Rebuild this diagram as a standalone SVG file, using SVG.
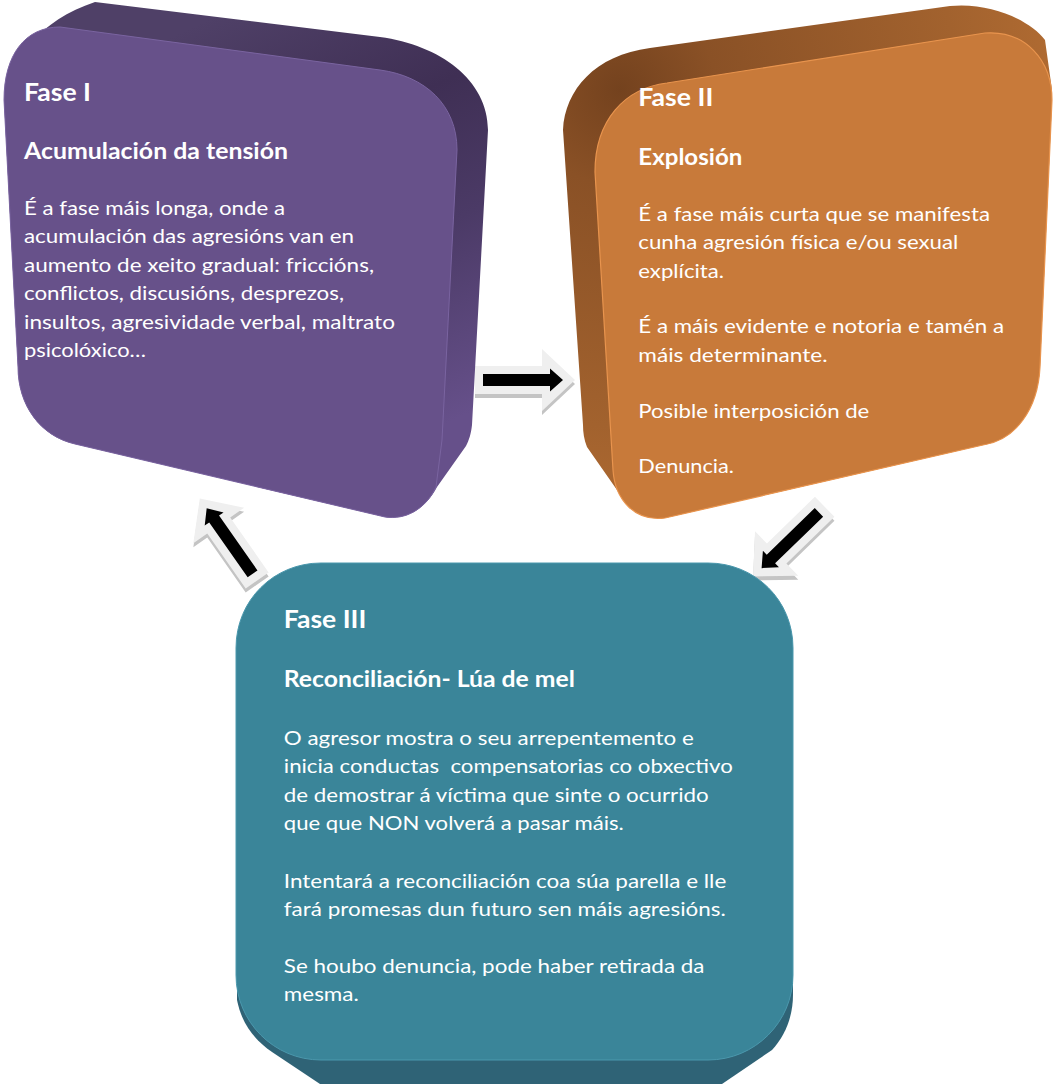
<svg xmlns="http://www.w3.org/2000/svg" width="1054" height="1084" viewBox="0 0 1054 1084">
  <style>
    .t { font-family: Lato, "Open Sans", "DejaVu Sans", sans-serif; fill: #ffffff; font-size: 19px; white-space: pre; }
    .h1 { font-weight: bold; font-size: 25px; }
    .h2 { font-weight: bold; font-size: 22px; }
    .arrG { fill: #efefef; }
    .arrS { fill: #c4c4c4; }
    .arrB { fill: #000000; }
  </style>
  <defs>
    <polygon id="arrowGray" points="-100,-14 -33,-14 -33,-31 0,0 -33,31 -33,14 -100,14"/>
    <polygon id="arrowBlack" points="-92,-6 -25,-6 -25,-11.5 -12,0 -25,11.5 -25,6 -92,6"/>
    <linearGradient id="purpleSide" gradientUnits="userSpaceOnUse" x1="250" y1="0" x2="470" y2="470">
      <stop offset="0" stop-color="#4F4067"/>
      <stop offset="0.3" stop-color="#3F2F54"/>
      <stop offset="0.55" stop-color="#4B3A66"/>
      <stop offset="0.9" stop-color="#66508A"/>
    </linearGradient>
    <radialGradient id="orangeSide" gradientUnits="userSpaceOnUse" cx="620" cy="90" r="480">
      <stop offset="0" stop-color="#74421E"/>
      <stop offset="0.2" stop-color="#8A5126"/>
      <stop offset="0.7" stop-color="#A2622E"/>
      <stop offset="1" stop-color="#B56E33"/>
    </radialGradient>
  </defs>

  <g id="connectors">
    <g id="arrow-1-2">
      <use href="#arrowGray" class="arrS" transform="translate(575,384)"/>
      <use href="#arrowGray" class="arrG" transform="translate(575,380)"/>
      <use href="#arrowBlack" class="arrB" transform="translate(575,380)"/>
    </g>
    <g id="arrow-2-3">
      <use href="#arrowGray" class="arrS" transform="translate(753,580.5) rotate(135.8)"/>
      <use href="#arrowGray" class="arrG" transform="translate(753,576.5) rotate(135.8)"/>
      <use href="#arrowBlack" class="arrB" transform="translate(753,576.5) rotate(135.8)"/>
    </g>
    <g id="arrow-3-1">
      <use href="#arrowGray" class="arrS" transform="translate(199.8,502.5) rotate(235)"/>
      <use href="#arrowGray" class="arrG" transform="translate(199.8,498.5) rotate(235)"/>
      <use href="#arrowBlack" class="arrB" transform="translate(199.8,498.5) rotate(235)"/>
    </g>
  </g>

  <g id="fase-1">
    <path d="M 4,100 C 10,60 40,20 95,2 L 380,37 C 440,45 488,80 488,130 L 472,425 C 471,434 469,440 466,446 L 437,487 C 425,510 405,520 385,517 L 75,444 C 40,436 18,405 18,367 Z" fill="url(#purpleSide)"/>
    <path d="M 4,100 C 4,55 25,27 60,27 L 380,70 C 425,76 457,105 457,150 L 442,440 L 436,487 C 425,510 405,520 385,517 L 75,444 C 40,436 18,405 18,367 Z" fill="#67518A" stroke="#7A64A0" stroke-width="1"/>
    <text class="t h1" x="24" y="100.7" textLength="67" lengthAdjust="spacingAndGlyphs">Fase I</text>
    <text class="t h2" x="24" y="159.3" textLength="264" lengthAdjust="spacingAndGlyphs">Acumulación da tensión</text>
    <text class="t" x="24" y="215" textLength="261" lengthAdjust="spacingAndGlyphs">É a fase máis longa, onde a</text>
    <text class="t" x="24" y="243.4" textLength="330" lengthAdjust="spacingAndGlyphs">acumulación das agresións van en</text>
    <text class="t" x="24" y="271.8" textLength="350" lengthAdjust="spacingAndGlyphs">aumento de xeito gradual: friccións,</text>
    <text class="t" x="24" y="300.2" textLength="320" lengthAdjust="spacingAndGlyphs">conflictos, discusións, desprezos,</text>
    <text class="t" x="24" y="328.6" textLength="371" lengthAdjust="spacingAndGlyphs">insultos, agresividade verbal, maltrato</text>
    <text class="t" x="24" y="357" textLength="122" lengthAdjust="spacingAndGlyphs">psicolóxico…</text>
  </g>

  <g id="fase-2">
    <path d="M 563,130 C 565,90 595,55 650,48 L 950,6 C 990,2 1030,20 1045,40 L 1052,90 L 1052,100 L 1040,367 C 1038,410 1015,440 983,445 L 665,518 C 645,520 628,510 617,490 L 587,447 C 584,440 583,432 583,425 Z" fill="url(#orangeSide)"/>
    <path d="M 595,172 C 595,120 625,88 667,83 L 985,33 C 1025,30 1052,60 1052,100 L 1040,367 C 1038,410 1015,440 983,445 L 665,518 C 635,522 615,500 613,470 Z" fill="#C87A3A" stroke="#E8944E" stroke-width="1.2"/>
    <text class="t h1" x="638.3" y="106" textLength="75" lengthAdjust="spacingAndGlyphs">Fase II</text>
    <text class="t h2" x="638.3" y="165" textLength="104" lengthAdjust="spacingAndGlyphs">Explosión</text>
    <text class="t" x="638.3" y="221" textLength="351.7" lengthAdjust="spacingAndGlyphs">É a fase máis curta que se manifesta</text>
    <text class="t" x="638.3" y="249.3" textLength="320" lengthAdjust="spacingAndGlyphs">cunha agresión física e/ou sexual</text>
    <text class="t" x="638.3" y="277.7" textLength="85.7" lengthAdjust="spacingAndGlyphs">explícita.</text>
    <text class="t" x="638.3" y="333.3" textLength="365.7" lengthAdjust="spacingAndGlyphs">É a máis evidente e notoria e tamén a</text>
    <text class="t" x="638.3" y="362.3" textLength="189.3" lengthAdjust="spacingAndGlyphs">máis determinante.</text>
    <text class="t" x="638.3" y="418.3" textLength="231" lengthAdjust="spacingAndGlyphs">Posible interposición de</text>
    <text class="t" x="638.3" y="473.3" textLength="95.7" lengthAdjust="spacingAndGlyphs">Denuncia.</text>
  </g>

  <g id="fase-3">
    <path d="M 237,960 L 237,1000 C 242,1025 255,1040 272,1052 L 320,1084 L 722,1084 L 772,1050 C 786,1035 793,1015 793,995 L 793,960 Z" fill="#2F6376"/>
    <path d="M 321,563 L 708,563 C 755,563 793,600 793,648 L 793,975 C 793,1022 755,1060 708,1060 L 321,1060 C 274,1060 236,1022 236,975 L 236,648 C 236,600 274,563 321,563 Z" fill="#3A8599" stroke="#4B98AD" stroke-width="1"/>
    <text class="t h1" x="283.8" y="628" textLength="82.5" lengthAdjust="spacingAndGlyphs">Fase III</text>
    <text class="t h2" x="283.8" y="687" textLength="291" lengthAdjust="spacingAndGlyphs">Reconciliación- Lúa de mel</text>
    <text class="t" x="283.8" y="745" textLength="410" lengthAdjust="spacingAndGlyphs">O agresor mostra o seu arrepentemento e</text>
    <text class="t" x="283.8" y="773.4" textLength="449" lengthAdjust="spacingAndGlyphs">inicia conductas  compensatorias co obxectivo</text>
    <text class="t" x="283.8" y="801.8" textLength="425" lengthAdjust="spacingAndGlyphs">de demostrar á víctima que sinte o ocurrido</text>
    <text class="t" x="283.8" y="830.2" textLength="340" lengthAdjust="spacingAndGlyphs">que que NON volverá a pasar máis.</text>
    <text class="t" x="283.8" y="887.5" textLength="442.5" lengthAdjust="spacingAndGlyphs">Intentará a reconciliación coa súa parella e lle</text>
    <text class="t" x="283.8" y="916" textLength="442" lengthAdjust="spacingAndGlyphs">fará promesas dun futuro sen máis agresións.</text>
    <text class="t" x="283.8" y="972.5" textLength="420.7" lengthAdjust="spacingAndGlyphs">Se houbo denuncia, pode haber retirada da</text>
    <text class="t" x="283.8" y="1001" textLength="75" lengthAdjust="spacingAndGlyphs">mesma.</text>
  </g>
</svg>
